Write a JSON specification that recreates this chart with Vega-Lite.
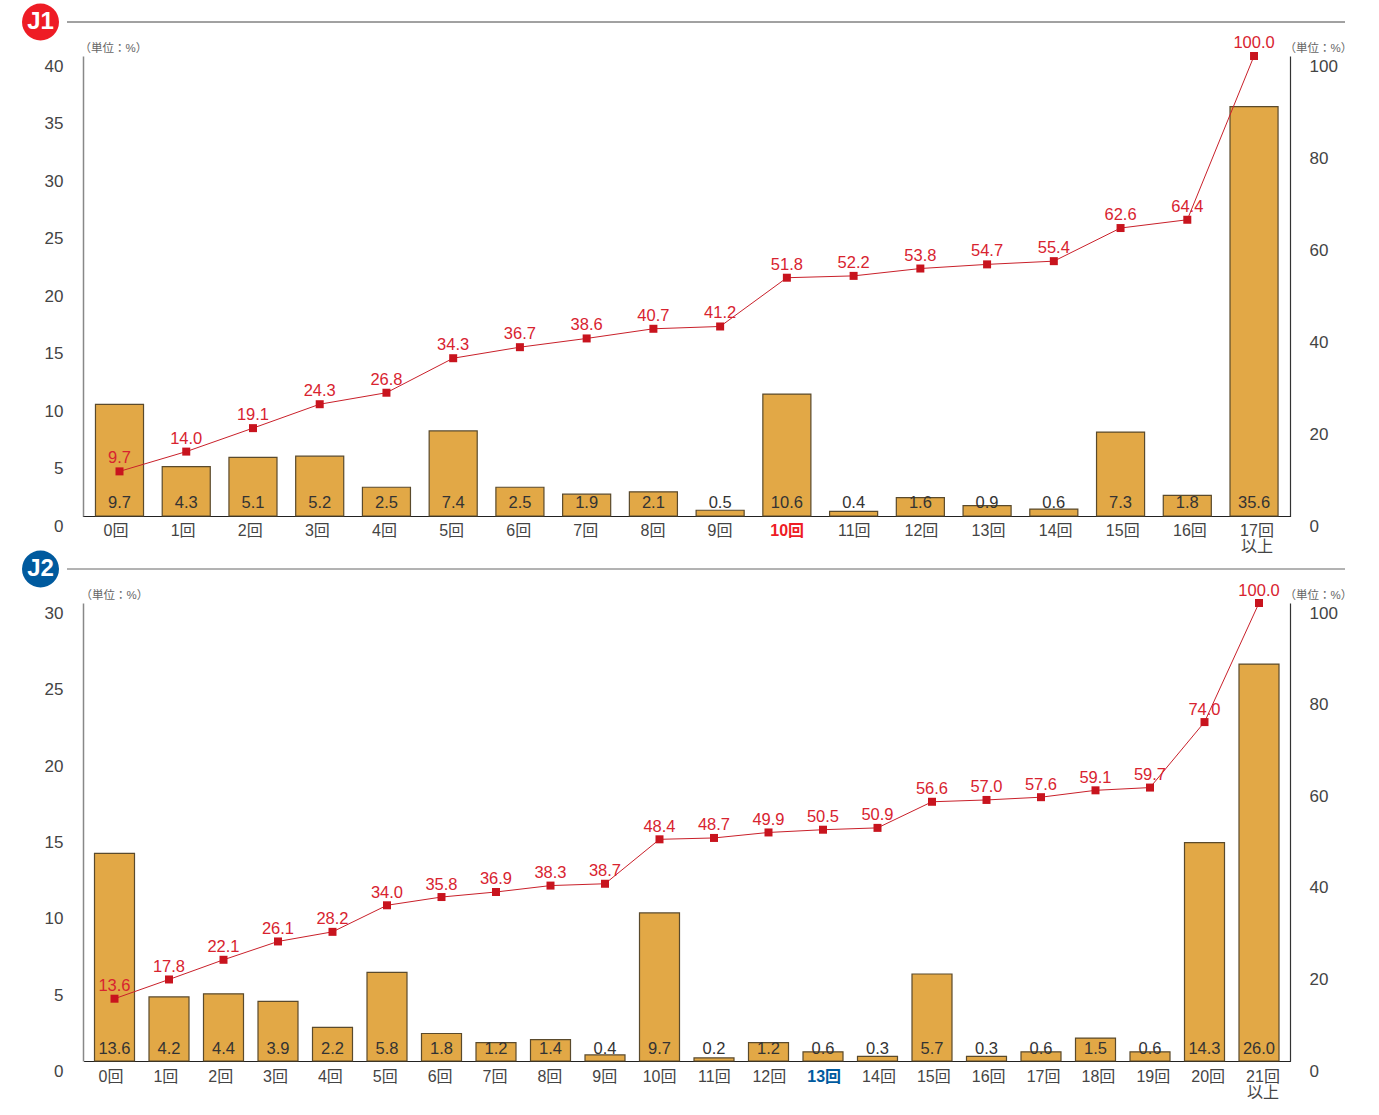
{"$schema":"https://vega.github.io/schema/vega-lite/v6.json","background":"white","padding":{"left":22,"top":2.5,"right":0,"bottom":0},"bounds":"flush","spacing":33.5,
"config":{"view":{"stroke":null},"font":"Liberation Sans, Noto Sans CJK JP","text":{"font":"Liberation Sans, Noto Sans CJK JP"}},
"datasets":{
"j1":[{"cat":"0回","share":9.7,"cum":9.7},{"cat":"1回","share":4.3,"cum":14.0},{"cat":"2回","share":5.1,"cum":19.1},{"cat":"3回","share":5.2,"cum":24.3},{"cat":"4回","share":2.5,"cum":26.8},{"cat":"5回","share":7.4,"cum":34.3},{"cat":"6回","share":2.5,"cum":36.7},{"cat":"7回","share":1.9,"cum":38.6},{"cat":"8回","share":2.1,"cum":40.7},{"cat":"9回","share":0.5,"cum":41.2},{"cat":"10回","share":10.6,"cum":51.8},{"cat":"11回","share":0.4,"cum":52.2},{"cat":"12回","share":1.6,"cum":53.8},{"cat":"13回","share":0.9,"cum":54.7},{"cat":"14回","share":0.6,"cum":55.4},{"cat":"15回","share":7.3,"cum":62.6},{"cat":"16回","share":1.8,"cum":64.4},{"cat":"17回以上","share":35.6,"cum":100.0}],
"j2":[{"cat":"0回","share":13.6,"cum":13.6},{"cat":"1回","share":4.2,"cum":17.8},{"cat":"2回","share":4.4,"cum":22.1},{"cat":"3回","share":3.9,"cum":26.1},{"cat":"4回","share":2.2,"cum":28.2},{"cat":"5回","share":5.8,"cum":34.0},{"cat":"6回","share":1.8,"cum":35.8},{"cat":"7回","share":1.2,"cum":36.9},{"cat":"8回","share":1.4,"cum":38.3},{"cat":"9回","share":0.4,"cum":38.7},{"cat":"10回","share":9.7,"cum":48.4},{"cat":"11回","share":0.2,"cum":48.7},{"cat":"12回","share":1.2,"cum":49.9},{"cat":"13回","share":0.6,"cum":50.5},{"cat":"14回","share":0.3,"cum":50.9},{"cat":"15回","share":5.7,"cum":56.6},{"cat":"16回","share":0.3,"cum":57.0},{"cat":"17回","share":0.6,"cum":57.6},{"cat":"18回","share":1.5,"cum":59.1},{"cat":"19回","share":0.6,"cum":59.7},{"cat":"20回","share":14.3,"cum":74.0},{"cat":"21回以上","share":26.0,"cum":100.0}],
"h1":[{"league":"J1"}],"h2":[{"league":"J2"}]},
"vconcat":[
{"width":1207,"height":20,"data":{"name":"h1"},"layer":[
{"mark":{"type":"rule","color":"#444444","strokeWidth":1,"clip":false},"encoding":{"x":{"datum":67,"type":"quantitative","scale":{"domain":[83,1290],"nice":false,"zero":false},"axis":null},"x2":{"datum":1345},"y":{"datum":19.5,"type":"quantitative","scale":{"domain":[20,0],"nice":false},"axis":null}}},
{"mark":{"type":"point","filled":true,"shape":"circle","size":1369,"color":"#ee1c25","opacity":1,"clip":false},"encoding":{"x":{"datum":40.5,"type":"quantitative","scale":{"domain":[83,1290],"nice":false,"zero":false},"axis":null},"y":{"datum":19.5,"type":"quantitative","scale":{"domain":[20,0],"nice":false},"axis":null}}},
{"mark":{"type":"text","color":"white","fontWeight":"bold","fontSize":24,"font":"Liberation Sans","baseline":"middle","clip":false},"encoding":{"text":{"field":"league"},"x":{"datum":40.5,"type":"quantitative","scale":{"domain":[83,1290],"nice":false,"zero":false},"axis":null},"y":{"datum":19.5,"type":"quantitative","scale":{"domain":[20,0],"nice":false},"axis":null}}}
]},
{"width":1207,"height":460,"data":{"name":"j1"},"resolve":{"scale":{"x":"independent","y":"independent"}},"layer":[
{"mark":{"type":"point","opacity":0},"encoding":{"x":{"field":"cat","type":"nominal","sort":null,"scale":{"type":"band","range":[-0.56,1207.56],"padding":0},"axis":{"orient":"bottom","title":null,"ticks":false,"labelAngle":0,"labelPadding":6,"labelFontSize":16,"labelFont":"Liberation Sans, Noto Sans CJK JP","labelColor":{"condition":{"test":"datum.value=='10回'","value":"#ee1c25"},"value":"#444444"},"labelFontWeight":{"condition":{"test":"datum.value=='10回'","value":"bold"},"value":"normal"},"labelLineHeight":16,"labelOverlap":false,"labelExpr":"datum.value=='17回以上'?['17回','以上']:datum.value","domainColor":"#222222","domainWidth":1.2,"grid":false}}}},
{"mark":{"type":"bar","fill":"#e2a846","stroke":"#5a4a2c","strokeWidth":1.2},"encoding":{"x":{"field":"cat","type":"nominal","sort":null,"scale":{"type":"band","range":[3.13,1204.4],"paddingInner":0.28,"paddingOuter":0.14},"axis":null},"y":{"field":"share","type":"quantitative","scale":{"domain":[0,40],"nice":false},"axis":{"orient":"left","title":"（単位：%）","titleAngle":0,"titleFontSize":11.5,"titleFontWeight":"normal","titleColor":"#666666","titleAlign":"left","titleBaseline":"middle","titleX":-4,"titleY":-8,"values":[0,5,10,15,20,25,30,35,40],"ticks":false,"grid":false,"labelOffset":10,"labelPadding":20,"labelFontSize":17,"labelColor":"#444444","labelFont":"Liberation Sans","labelBaseline":"middle","labelFlush":false,"domainColor":"#888888","domainWidth":1.5}}}},
{"mark":{"type":"text","fontSize":16.5,"color":"#333333","baseline":"middle","dy":-13,"font":"Liberation Sans"},"encoding":{"x":{"field":"cat","type":"nominal","sort":null,"scale":{"type":"band","range":[3.13,1204.4],"paddingInner":0.28,"paddingOuter":0.14},"axis":null},"y":{"datum":0,"type":"quantitative","scale":{"domain":[0,40],"nice":false},"axis":null},"text":{"field":"share","type":"quantitative","format":".1f"}}},
{"mark":{"type":"line","color":"#c9202a","strokeWidth":1},"encoding":{"x":{"field":"cat","type":"nominal","sort":null,"scale":{"type":"band","range":[3.13,1204.4],"paddingInner":0.28,"paddingOuter":0.14},"axis":null},"y":{"field":"cum","type":"quantitative","scale":{"domain":[0,100],"nice":false},"axis":{"orient":"right","title":"（単位：%）","titleAngle":0,"titleFontSize":11.5,"titleFontWeight":"normal","titleColor":"#666666","titleAlign":"left","titleBaseline":"middle","titleX":-6,"titleY":-8,"values":[0,20,40,60,80,100],"ticks":false,"grid":false,"labelOffset":10.5,"labelPadding":19,"labelFontSize":17,"labelColor":"#444444","labelFont":"Liberation Sans","labelBaseline":"middle","labelFlush":false,"domainColor":"#333333","domainWidth":1.2}}}},
{"mark":{"type":"point","shape":"square","filled":true,"size":64,"color":"#c8141e","opacity":1},"encoding":{"x":{"field":"cat","type":"nominal","sort":null,"scale":{"type":"band","range":[3.13,1204.4],"paddingInner":0.28,"paddingOuter":0.14},"axis":null},"y":{"field":"cum","type":"quantitative","scale":{"domain":[0,100],"nice":false},"axis":null}}},
{"mark":{"type":"text","fontSize":16.5,"color":"#d8232f","baseline":"middle","dy":-13,"font":"Liberation Sans"},"encoding":{"x":{"field":"cat","type":"nominal","sort":null,"scale":{"type":"band","range":[3.13,1204.4],"paddingInner":0.28,"paddingOuter":0.14},"axis":null},"y":{"field":"cum","type":"quantitative","scale":{"domain":[0,100],"nice":false},"axis":null},"text":{"field":"cum","type":"quantitative","format":".1f"}}}
]},
{"width":1207,"height":20,"data":{"name":"h2"},"layer":[
{"mark":{"type":"rule","color":"#666666","strokeWidth":1,"clip":false},"encoding":{"x":{"datum":67,"type":"quantitative","scale":{"domain":[83,1290],"nice":false,"zero":false},"axis":null},"x2":{"datum":1345},"y":{"datum":19.5,"type":"quantitative","scale":{"domain":[20,0],"nice":false},"axis":null}}},
{"mark":{"type":"point","filled":true,"shape":"circle","size":1369,"color":"#005a9e","opacity":1,"clip":false},"encoding":{"x":{"datum":40.5,"type":"quantitative","scale":{"domain":[83,1290],"nice":false,"zero":false},"axis":null},"y":{"datum":19.5,"type":"quantitative","scale":{"domain":[20,0],"nice":false},"axis":null}}},
{"mark":{"type":"text","color":"white","fontWeight":"bold","fontSize":24,"font":"Liberation Sans","baseline":"middle","clip":false},"encoding":{"text":{"field":"league"},"x":{"datum":40.5,"type":"quantitative","scale":{"domain":[83,1290],"nice":false,"zero":false},"axis":null},"y":{"datum":19.5,"type":"quantitative","scale":{"domain":[20,0],"nice":false},"axis":null}}}
]},
{"width":1207,"height":458,"data":{"name":"j2"},"resolve":{"scale":{"x":"independent","y":"independent"}},"layer":[
{"mark":{"type":"point","opacity":0},"encoding":{"x":{"field":"cat","type":"nominal","sort":null,"scale":{"type":"band","range":[0.57,1207.43],"padding":0},"axis":{"orient":"bottom","title":null,"ticks":false,"labelAngle":0,"labelPadding":7,"labelFontSize":16,"labelFont":"Liberation Sans, Noto Sans CJK JP","labelColor":{"condition":{"test":"datum.value=='13回'","value":"#005a9e"},"value":"#444444"},"labelFontWeight":{"condition":{"test":"datum.value=='13回'","value":"bold"},"value":"normal"},"labelLineHeight":16,"labelOverlap":false,"labelExpr":"datum.value=='21回以上'?['21回','以上']:datum.value","domainColor":"#222222","domainWidth":1.2,"grid":false}}}},
{"mark":{"type":"bar","fill":"#e2a846","stroke":"#5a4a2c","strokeWidth":1.2},"encoding":{"x":{"field":"cat","type":"nominal","sort":null,"scale":{"type":"band","range":[4.25,1203.25],"paddingInner":0.266,"paddingOuter":0.133},"axis":null},"y":{"field":"share","type":"quantitative","scale":{"domain":[0,30],"nice":false},"axis":{"orient":"left","title":"（単位：%）","titleAngle":0,"titleFontSize":11.5,"titleFontWeight":"normal","titleColor":"#666666","titleAlign":"left","titleBaseline":"middle","titleX":-3,"titleY":-8,"values":[0,5,10,15,20,25,30],"ticks":false,"grid":false,"labelOffset":10.5,"labelPadding":20,"labelFontSize":17,"labelColor":"#444444","labelFont":"Liberation Sans","labelBaseline":"middle","labelFlush":false,"domainColor":"#888888","domainWidth":1.5}}}},
{"mark":{"type":"text","fontSize":16.5,"color":"#333333","baseline":"middle","dy":-12,"font":"Liberation Sans"},"encoding":{"x":{"field":"cat","type":"nominal","sort":null,"scale":{"type":"band","range":[4.25,1203.25],"paddingInner":0.266,"paddingOuter":0.133},"axis":null},"y":{"datum":0,"type":"quantitative","scale":{"domain":[0,30],"nice":false},"axis":null},"text":{"field":"share","type":"quantitative","format":".1f"}}},
{"mark":{"type":"line","color":"#c9202a","strokeWidth":1},"encoding":{"x":{"field":"cat","type":"nominal","sort":null,"scale":{"type":"band","range":[4.25,1203.25],"paddingInner":0.266,"paddingOuter":0.133},"axis":null},"y":{"field":"cum","type":"quantitative","scale":{"domain":[0,100],"nice":false},"axis":{"orient":"right","title":"（単位：%）","titleAngle":0,"titleFontSize":11.5,"titleFontWeight":"normal","titleColor":"#666666","titleAlign":"left","titleBaseline":"middle","titleX":-6,"titleY":-8,"values":[0,20,40,60,80,100],"ticks":false,"grid":false,"labelOffset":10,"labelPadding":19,"labelFontSize":17,"labelColor":"#444444","labelFont":"Liberation Sans","labelBaseline":"middle","labelFlush":false,"domainColor":"#333333","domainWidth":1.2}}}},
{"mark":{"type":"point","shape":"square","filled":true,"size":64,"color":"#c8141e","opacity":1},"encoding":{"x":{"field":"cat","type":"nominal","sort":null,"scale":{"type":"band","range":[4.25,1203.25],"paddingInner":0.266,"paddingOuter":0.133},"axis":null},"y":{"field":"cum","type":"quantitative","scale":{"domain":[0,100],"nice":false},"axis":null}}},
{"mark":{"type":"text","fontSize":16.5,"color":"#d8232f","baseline":"middle","dy":-12.5,"font":"Liberation Sans"},"encoding":{"x":{"field":"cat","type":"nominal","sort":null,"scale":{"type":"band","range":[4.25,1203.25],"paddingInner":0.266,"paddingOuter":0.133},"axis":null},"y":{"field":"cum","type":"quantitative","scale":{"domain":[0,100],"nice":false},"axis":null},"text":{"field":"cum","type":"quantitative","format":".1f"}}}
]}
]}
